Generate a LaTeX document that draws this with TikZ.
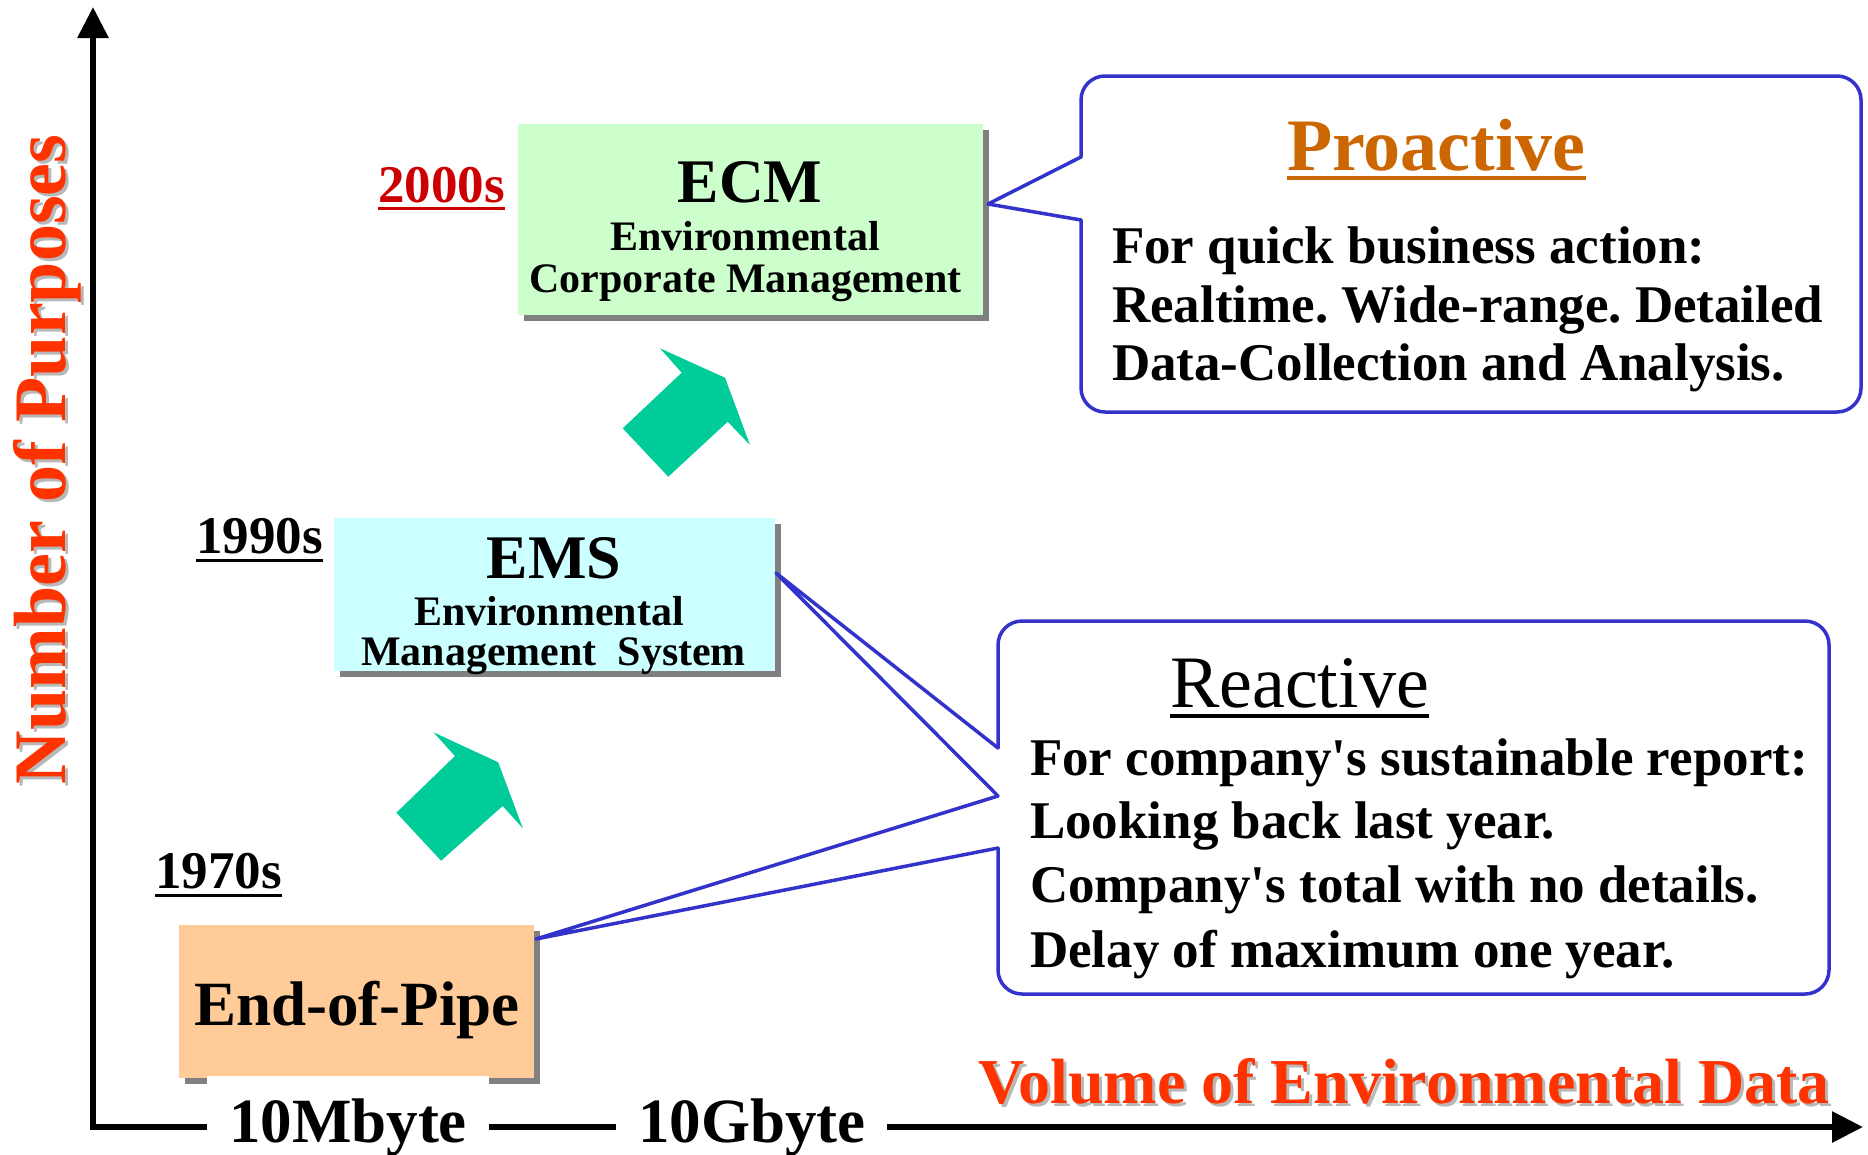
\documentclass[tikz,border=0pt]{standalone}
\usepackage{fontspec}
\setmainfont{Liberation Serif}
\usetikzlibrary{arrows.meta,shadows}
\definecolor{ecmfill}{HTML}{CCFFCC}
\definecolor{emsfill}{HTML}{CCFFFF}
\definecolor{eopfill}{HTML}{FFCC99}
\definecolor{boxshadow}{HTML}{808080}
\definecolor{arrowgreen}{HTML}{00CC99}
\definecolor{callblue}{HTML}{3333CC}
\definecolor{axisred}{HTML}{FF3300}
\definecolor{yearred}{HTML}{CC0000}
\definecolor{proorange}{HTML}{CC6600}
\definecolor{txtshadow}{HTML}{B8B8B8}
\newcommand\myfs[1]{\fontsize{#1pt}{#1pt}\selectfont}
\frenchspacing
\begin{document}
\begin{tikzpicture}[x=1pt,y=-1pt,
  txt/.style={inner sep=0pt,outer sep=0pt},
  stagebox/.style={rectangle,inner sep=0pt,outer sep=0pt,
    drop shadow={shadow xshift=6pt,shadow yshift=-6pt,fill=boxshadow,opacity=1}},
  callout/.style={draw=callblue,line width=3.5pt,line cap=round,line join=round},
  axisline/.style={line width=6pt,
    {Triangle[length=31pt,width=30pt]}-{Triangle[length=31pt,width=30pt]}},
  uline/.style={line width=3.5pt},
  growarrow/.style={fill=arrowgreen}]
\useasboundingbox (0,0) rectangle (1868,1154);
\fill[white] (0,0) rectangle (1868,1154);

% axes
\coordinate (ytop) at (93,7);
\coordinate (origin) at (93,1127);
\coordinate (xend) at (1863,1127);
\draw[axisline] (ytop) -- (origin) -- (xend);

% axis labels
\node[txt,font=\bfseries\myfs{74},text=txtshadow,rotate=90,anchor=base west] (nopS) at (68,787) {Number of Purposes};
\node[txt,font=\bfseries\myfs{74},text=axisred,rotate=90,anchor=base west] (nop) at (65,784) {Number of Purposes};
\node[txt,font=\bfseries\myfs{64},text=txtshadow,anchor=base west] (volS) at (981,1106) {Volume of Environmental Data};
\node[txt,font=\bfseries\myfs{64},text=axisred,anchor=base west] (vol) at (978,1103) {Volume of Environmental Data};

% boxes
\node[stagebox,fill=ecmfill,minimum width=465pt,minimum height=191pt] (ecm) at (750.5,219.5) {};
\node[stagebox,fill=emsfill,minimum width=441pt,minimum height=153pt] (ems) at (554.5,594.5) {};
\node[stagebox,fill=eopfill,minimum width=355pt,minimum height=153pt] (eop) at (356.5,1001.5) {};

% box texts
\node[txt,font=\bfseries\myfs{62},anchor=base] (ecmA) at (750,202) {ECM};
\node[txt,font=\bfseries\myfs{42},anchor=base] (ecmB) at (745,250) {Environmental};
\node[txt,font=\bfseries\myfs{42},anchor=base] (ecmC) at (745.5,292) {Corporate Management};
\node[txt,font=\bfseries\myfs{62},anchor=base] (emsA) at (554,578) {EMS};
\node[txt,font=\bfseries\myfs{42},anchor=base] (emsB) at (549,625) {Environmental};
\node[txt,font=\bfseries\myfs{42},anchor=base] (emsC) at (553.5,665) {Management~ System};
\node[txt,font=\bfseries\myfs{63},anchor=base] (eopA) at (357,1025) {End-of-Pipe};

% years
\node[txt,font=\bfseries\myfs{53},text=yearred,anchor=base west] (y2000) at (378,202) {2000s};
\draw[uline,yearred,line width=3pt] ([yshift=-6pt]y2000.base west) -- ([yshift=-6pt]y2000.base east);
\node[txt,font=\bfseries\myfs{53},anchor=base west] (y1990) at (196,553) {1990s};
\draw[uline,line width=3pt] ([yshift=-7pt]y1990.base west) -- ([yshift=-7pt]y1990.base east);
\node[txt,font=\bfseries\myfs{53},anchor=base west] (y1970) at (155,888) {1970s};
\draw[uline,line width=3pt] ([yshift=-7pt]y1970.base west) -- ([yshift=-7pt]y1970.base east);

% growth arrows
\fill[growarrow] (660,348.3) -- (725,377.7) -- (750,445) -- (727.7,421.7) -- (668.3,476.7) -- (622.7,428.3) -- (681.7,372.7) -- cycle;
\fill[growarrow] (433.5,732.3) -- (498.2,762.3) -- (522.8,828.3) -- (502.7,806) -- (441.1,860.7) -- (396.4,812.7) -- (454.9,756) -- cycle;

% callout tips
\coordinate (tipecm) at (988,204);
\coordinate (tipems) at (776,573);
\coordinate (tipeop) at (536,939);

% proactive callout
\coordinate (pa) at (1081,157);
\coordinate (pb) at (1081,220);
\draw[callout] (pa) -- (tipecm) -- (pb);
\draw[callout,rounded corners=24pt] (pb) -- (1081,412) -- (1861,412) -- (1861,76) -- (1081,76) -- (pa);
\node[txt,font=\bfseries\myfs{74},text=proorange,anchor=base west] (pro) at (1287,170) {Proactive};
\draw[uline,proorange] ([yshift=-8pt]pro.base west) -- ([yshift=-8pt]pro.base east);
\node[txt,font=\bfseries\myfs{53},anchor=base west] (proA) at (1112,263) {For quick business action:};
\node[txt,font=\bfseries\myfs{53},anchor=base west] (proB) at (1112,322) {Realtime. Wide-range. Detailed};
\node[txt,font=\bfseries\myfs{53},anchor=base west] (proC) at (1112,380) {Data-Collection and Analysis.};

% reactive callout
\coordinate (ra) at (998,748);
\coordinate (rb) at (998,796);
\coordinate (rc) at (998,848);
\draw[callout] (ra) -- (tipems) -- (rb) -- (tipeop) -- (rc);
\draw[callout,rounded corners=24pt] (rc) -- (998,994) -- (1829,994) -- (1829,621) -- (998,621) -- (ra);
\node[txt,font=\myfs{74},anchor=base west] (rea) at (1170,707) {Reactive};
\draw[uline] ([yshift=-9pt]rea.base west) -- ([yshift=-9pt]rea.base east);
\node[txt,font=\bfseries\myfs{53},anchor=base west] (reA) at (1030,775) {For company\textquotesingle s sustainable report:};
\node[txt,font=\bfseries\myfs{53},anchor=base west] (reB) at (1030,838) {Looking back last year.};
\node[txt,font=\bfseries\myfs{53},anchor=base west] (reC) at (1030,902) {Company\textquotesingle s total with no details.};
\node[txt,font=\bfseries\myfs{53},anchor=base west] (reD) at (1030,967) {Delay of maximum one year.};

% x-axis value labels
\node[txt,fill=white,font=\bfseries\myfs{63},anchor=base west,inner xsep=22pt,inner ysep=22pt] (mb) at (207,1142) {10Mbyte};
\node[txt,fill=white,font=\bfseries\myfs{63},anchor=base west,inner xsep=22pt,inner ysep=22pt] (gb) at (616,1142) {10Gbyte};
\end{tikzpicture}
\end{document}
